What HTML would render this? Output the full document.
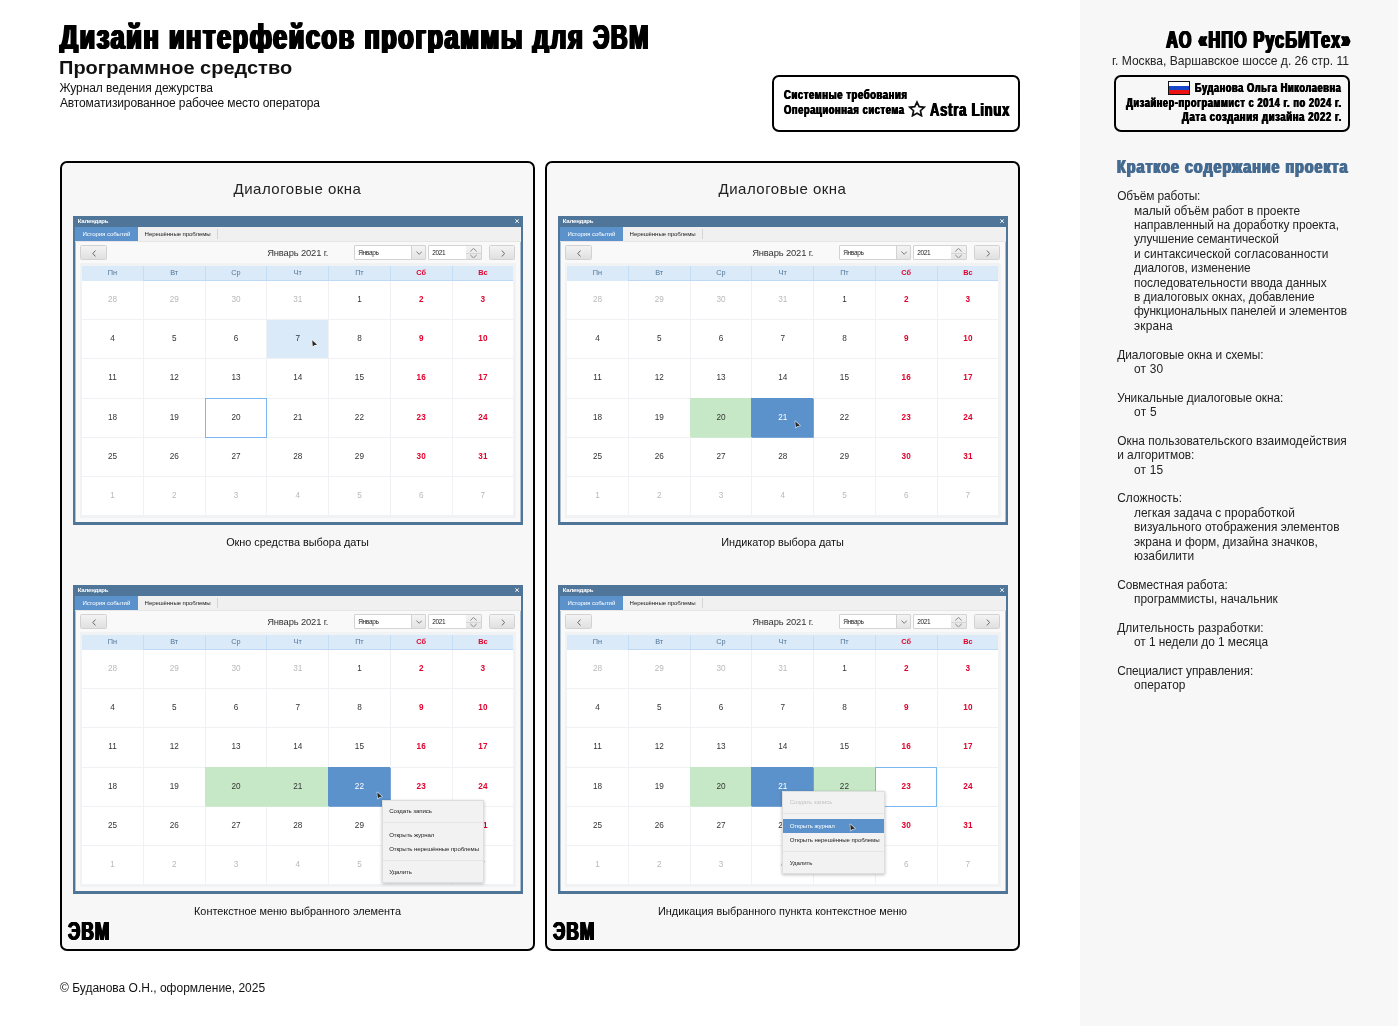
<!DOCTYPE html><html lang="ru"><head><meta charset="utf-8"><title>Дизайн интерфейсов программы для ЭВМ</title><style>
*{box-sizing:border-box;margin:0;padding:0}
html,body{width:1398px;height:1026px;overflow:hidden;background:#fff}
body{position:relative;font-family:"Liberation Sans",sans-serif;color:#111;will-change:transform}
.abs{position:absolute;white-space:nowrap;line-height:1}
.cond{position:absolute;white-space:nowrap;line-height:1;font-weight:bold;transform-origin:0 0;}
.condr{transform-origin:100% 0}
#side{position:absolute;left:1080px;top:0;width:318px;height:1026px;background:#f7f7f7}
.box{position:absolute;border:2px solid #000;border-radius:7px}
.panel{position:absolute;top:161px;width:475px;height:790px;border:2px solid #000;border-radius:7px;background:#f7f7f7}
.ptitle{position:absolute;left:0;width:100%;text-align:center;font-size:15px;letter-spacing:.5px;line-height:1;color:#222}
.cap{position:absolute;left:0;width:100%;text-align:center;font-size:10.9px;letter-spacing:-.02px;line-height:1;color:#111}
.st{font-size:11.9px;line-height:14.4px;color:#222;position:absolute;white-space:nowrap}
/* calendar window */
.win{position:absolute;width:450px;height:309px;background:#f9f9f9;border:2.3px solid #4f7599;border-bottom-width:3px;border-top:none;box-shadow:inset .7px 0 0 rgba(79,117,153,.6),inset -.7px 0 0 rgba(79,117,153,.6);overflow:hidden;font-size:8px}
.win .tb{position:absolute;left:-3px;top:0;width:456px;height:10.8px;background:#4f7599}
.win .tt{position:absolute;left:2.8px;top:2.3px;font-size:6px;font-weight:bold;color:#fff;line-height:1;letter-spacing:-.2px}
.win .x{position:absolute;left:439.7px;top:3.4px;width:4.2px;height:4.2px}
.win .tabs{position:absolute;left:0;top:10.8px;width:446px;height:14.8px;background:#f0f0f0;border-bottom:.6px solid #e6e6e6}
.win .tab1{position:absolute;left:0;top:0;width:62.6px;height:14.4px;background:#5b92cc;color:#fff;font-size:6.1px;line-height:14.4px;text-align:center;letter-spacing:-.1px}
.win .tab2{position:absolute;left:62.6px;top:0;width:80px;height:14.4px;color:#222;font-size:6.1px;line-height:14.4px;text-align:center;letter-spacing:-.1px}
.win .tsep{position:absolute;left:142.3px;top:2.5px;width:.7px;height:9.5px;background:#d5d5d5}
.btn{position:absolute;top:29.4px;height:14.6px;width:26.2px;border:.7px solid #d2d2d2;border-radius:1.5px;background:linear-gradient(#f3f3f3,#e0e0e0)}
.btn svg{position:absolute;left:10.3px;top:3.6px;width:4.4px;height:7px}
.mon{position:absolute;left:192.2px;top:32.1px;font-size:9.4px;letter-spacing:-.14px;line-height:1;color:#333;white-space:nowrap}
.dd{position:absolute;top:29.4px;height:14.4px;background:#fff;border:.7px solid #d3d3d3;border-radius:1px;font-size:6.5px;line-height:13.6px;color:#222;padding-left:3.7px;letter-spacing:-.32px}
.dd .ar{position:absolute;right:0;top:0;bottom:0;width:14px;border-left:.7px solid #d2d2d2;background:linear-gradient(#f4f4f4,#e4e4e4)}
.frame{position:absolute;left:5.3px;top:47.3px;width:435.7px;height:254.4px;background:#f0f2f4}
.hd{position:absolute;left:.8px;top:2.3px;width:432.2px;height:15.4px;background:#dbeaf8;border-bottom:.8px solid #bdd9f3;display:grid;grid-template-columns:repeat(7,1fr);z-index:1}
.hd div{text-align:center;font-size:7.3px;line-height:14.6px;color:#4f7599;border-left:.8px solid #c4def5}
.hd div:first-child{border-left:1.5px solid #f0f2f4;margin-bottom:-.8px;background:#dbeaf8;background-clip:padding-box}
.hd div.r{color:#e2002c;font-weight:bold}
.gr{position:absolute;left:.8px;top:16.9px;width:432.2px;height:234.9px;background:#fff;display:grid;grid-template-columns:repeat(7,1fr);grid-template-rows:repeat(6,1fr)}
.gr div{position:relative;border-left:.8px solid #eff1f4;border-top:.8px solid #eff1f4;text-align:center;font-size:8.2px;line-height:37px;color:#333;min-height:0}
.gr div.f{border-left:1.5px solid #f0f2f4}
.gr div.t{border-top-color:#fff}
.gr div.g{color:#b9b9b9}
.gr div.r{color:#e2002c;font-weight:bold}
.gr div.hov{background:#dbeaf8}
.gr div.grn{background:#c6e8c6;border-color:#c6e8c6;z-index:1;box-shadow:.8px .8px 0 0 #c6e8c6}
.gr div.sel{background:#5b92cc;color:#fff;border-color:#5b92cc;z-index:2;box-shadow:.8px .8px 0 0 #5b92cc}
.gr div.foc{z-index:3}.gr div.foc::after{content:'';position:absolute;left:-.8px;top:-.8px;right:-.8px;bottom:-.8px;border:1px solid #7bb8ef}
.menu{position:absolute;width:102.8px;height:82.8px;background:#f2f2f2;border:.6px solid #dedede;box-shadow:0 1px 3px rgba(0,0,0,.25);font-size:6.1px;color:#222;letter-spacing:-.1px;z-index:5}
.menu div{position:absolute;left:0;width:100%;padding-left:6.6px;line-height:14.2px;height:14.6px;white-space:nowrap}
.menu hr{position:absolute;left:0;width:100%;border:none;height:.7px;background:#e5e5e5}
.menu .dis{color:#c4c4c4}
.menu .hi{background:#5b92cc;color:#fff}
.cur{position:absolute;width:8px;height:9.6px;z-index:6}
</style></head><body><div id="side"></div><div class="cond" style="top:19.17px;font-size:35px;color:#000;transform:scaleX(0.7229);letter-spacing:2.21px;text-shadow:0.85px 0 0,-0.85px 0 0,1.7px 0 0,-1.7px 0 0;clip-path:inset(-9px -9px 1.2px -9px);left:60.34px;">Дизайн интерфейсов программы для</div><div class="cond" style="top:19.17px;font-size:35px;color:#000;transform:scaleX(0.6611);letter-spacing:2.21px;text-shadow:0.85px 0 0,-0.85px 0 0,1.7px 0 0,-1.7px 0 0;left:592.81px;">ЭВМ</div><div class="abs" style="left:59.4px;top:59.9px;font-size:17.8px;font-weight:bold;color:#111;transform-origin:0 0;transform:scaleX(1.125)">Программное средство</div><div class="abs" style="left:59.4px;top:81.6px;font-size:12px;letter-spacing:-.07px">Журнал ведения дежурства</div><div class="abs" style="left:60px;top:96.8px;font-size:12px;letter-spacing:-.135px">Автоматизированное рабочее место оператора</div><div class="box" style="left:772px;top:75px;width:248px;height:57px;background:#fff"></div><div class="cond" style="top:88.63px;font-size:12.6px;color:#000;transform:scaleX(0.7527);letter-spacing:0.78px;text-shadow:0.6px 0 0,-0.6px 0 0;left:783.72px;">Системные требования</div><div class="cond" style="top:103.53px;font-size:12.6px;color:#000;transform:scaleX(0.745);letter-spacing:0.78px;text-shadow:0.6px 0 0,-0.6px 0 0;left:783.72px;">Операционная система</div><svg style="position:absolute;left:908.2px;top:99.9px;width:18px;height:17.4px" viewBox="0 0 24 23"><path d="M12 2.6l2.9 6.2 6.7.8-5 4.6 1.4 6.7L12 17.6l-6 3.3 1.4-6.7-5-4.6 6.7-.8z" fill="none" stroke="#111" stroke-width="2.3" stroke-linejoin="miter"/></svg><div class="cond" style="top:99.85px;font-size:19.2px;color:#000;transform:scaleX(0.6767);letter-spacing:1.17px;text-shadow:0.9px 0 0,-0.9px 0 0;left:929.55px;">Astra Linux</div><div class="cond condr" style="top:28.38px;font-size:24.6px;color:#000;transform:scaleX(0.6556);letter-spacing:1.82px;text-shadow:0.7px 0 0,-0.7px 0 0,1.4px 0 0,-1.4px 0 0;right:47.05px;">АО «НПО РусБИТех»</div><div class="abs" style="right:49px;top:55.2px;font-size:12.1px;color:#222">г. Москва, Варшавское шоссе д. 26 стр. 11</div><div class="box" style="left:1114px;top:75px;width:236px;height:57px;background:#f7f7f7"></div><div style="position:absolute;left:1168px;top:81.2px;width:22px;height:13.4px;border:1px solid #111;background:linear-gradient(#fff 0 33%,#1747c8 33% 66%,#e11 66%)"></div><div class="cond condr" style="top:82.0px;font-size:12.4px;color:#000;transform:scaleX(0.7462);letter-spacing:0.78px;text-shadow:0.6px 0 0,-0.6px 0 0;right:56.29px;">Буданова Ольга Николаевна</div><div class="cond condr" style="top:97.0px;font-size:12.4px;color:#000;transform:scaleX(0.7463);letter-spacing:0.78px;text-shadow:0.6px 0 0,-0.6px 0 0;right:56.29px;">Дизайнер-программист с 2014 г. по 2024 г.</div><div class="cond condr" style="top:111.0px;font-size:12.4px;color:#000;transform:scaleX(0.7688);letter-spacing:0.78px;text-shadow:0.6px 0 0,-0.6px 0 0;right:56.27px;">Дата создания дизайна 2022 г.</div><div class="cond" style="top:158.19px;font-size:18.2px;color:#456b91;transform:scaleX(0.7879);letter-spacing:1.23px;text-shadow:0.95px 0 0,-0.95px 0 0;left:1117.05px;">Краткое содержание проекта</div><div class="st" style="left:1117.2px;top:189.3px;letter-spacing:-0.137px">Объём работы:</div><div class="st" style="left:1134.0px;top:203.69px;letter-spacing:-0.035px">малый объём работ в проекте</div><div class="st" style="left:1134.0px;top:218.07px;letter-spacing:-0.073px">направленный на доработку проекта,</div><div class="st" style="left:1134.0px;top:232.46px;letter-spacing:-0.118px">улучшение семантической</div><div class="st" style="left:1134.0px;top:246.84px;letter-spacing:0.041px">и синтаксической согласованности</div><div class="st" style="left:1134.0px;top:261.23px;letter-spacing:-0.037px">диалогов, изменение</div><div class="st" style="left:1134.0px;top:275.61px;letter-spacing:-0.056px">последовательности ввода данных</div><div class="st" style="left:1134.0px;top:290.0px;letter-spacing:-0.049px">в диалоговых окнах, добавление</div><div class="st" style="left:1134.0px;top:304.38px;letter-spacing:-0.1px">функциональных панелей и элементов</div><div class="st" style="left:1134.0px;top:318.76px;letter-spacing:0.199px">экрана</div><div class="st" style="left:1117.2px;top:347.53px;letter-spacing:-0.027px">Диалоговые окна и схемы:</div><div class="st" style="left:1134.0px;top:361.92px;letter-spacing:0.188px">от 30</div><div class="st" style="left:1117.2px;top:390.69px;letter-spacing:-0.079px">Уникальные диалоговые окна:</div><div class="st" style="left:1134.0px;top:405.08px;letter-spacing:0.323px">от 5</div><div class="st" style="left:1117.2px;top:433.85px;letter-spacing:0.037px">Окна пользовательского взаимодействия</div><div class="st" style="left:1117.2px;top:448.23px;letter-spacing:-0.005px">и алгоритмов:</div><div class="st" style="left:1134.0px;top:462.62px;letter-spacing:0.188px">от 15</div><div class="st" style="left:1117.2px;top:491.38px;letter-spacing:0.087px">Сложность:</div><div class="st" style="left:1134.0px;top:505.77px;letter-spacing:0.01px">легкая задача с проработкой</div><div class="st" style="left:1134.0px;top:520.15px;letter-spacing:-0.008px">визуального отображения элементов</div><div class="st" style="left:1134.0px;top:534.54px;letter-spacing:0.005px">экрана и форм, дизайна значков,</div><div class="st" style="left:1134.0px;top:548.92px;letter-spacing:-0.006px">юзабилити</div><div class="st" style="left:1117.2px;top:577.69px;letter-spacing:-0.082px">Совместная работа:</div><div class="st" style="left:1134.0px;top:592.08px;letter-spacing:-0.011px">программисты, начальник</div><div class="st" style="left:1117.2px;top:620.85px;letter-spacing:0.026px">Длительность разработки:</div><div class="st" style="left:1134.0px;top:635.24px;letter-spacing:-0.052px">от 1 недели до 1 месяца</div><div class="st" style="left:1117.2px;top:664.0px;letter-spacing:-0.102px">Специалист управления:</div><div class="st" style="left:1134.0px;top:678.39px;letter-spacing:0.042px">оператор</div><div class="panel" style="left:60px"><div class="ptitle" style="top:17.6px">Диалоговые окна</div><div class="cap" style="top:373.8px">Окно средства выбора даты</div><div class="cap" style="top:742.7px">Контекстное меню выбранного элемента</div></div><div class="cond" style="top:918.96px;font-size:25.8px;color:#000;transform:scaleX(0.6705);letter-spacing:1.56px;text-shadow:0.6px 0 0,-0.6px 0 0,1.2px 0 0,-1.2px 0 0;left:67.5px;">ЭВМ</div><div class="panel" style="left:545px"><div class="ptitle" style="top:17.6px">Диалоговые окна</div><div class="cap" style="top:373.8px">Индикатор выбора даты</div><div class="cap" style="top:742.7px">Индикация выбранного пункта контекстное меню</div></div><div class="cond" style="top:918.96px;font-size:25.8px;color:#000;transform:scaleX(0.6705);letter-spacing:1.56px;text-shadow:0.6px 0 0,-0.6px 0 0,1.2px 0 0,-1.2px 0 0;left:552.5px;">ЭВМ</div><div class="win" style="left:73px;top:216px"><div class="tb"></div><div class="tt">Календарь</div><svg class="x" viewBox="0 0 4 4"><path d="M.3.3l3.4 3.4M3.7.3L.3 3.7" stroke="#fff" stroke-width=".9"/></svg><div class="tabs"><div class="tab1">История событий</div><div class="tab2">Нерешённые проблемы</div><div class="tsep"></div></div><div class="btn" style="left:5.4px"><svg viewBox="0 0 4 6.4"><path d="M3.2.5L.7 3.2l2.5 2.7" fill="none" stroke="#555" stroke-width=".8"/></svg></div><div class="mon">Январь 2021 г.</div><div class="dd" style="left:278.5px;width:72px">Январь<span class="ar"><svg style="position:absolute;left:4px;top:5px;width:6.4px;height:4px" viewBox="0 0 6.4 4"><path d="M.4.5l2.8 2.8L6 .5" fill="none" stroke="#555" stroke-width=".75"/></svg></span></div><div class="dd" style="left:352.5px;width:54.4px">2021<span class="ar" style="width:14.6px;border-left:none"><i style="position:absolute;left:0;right:0;top:6.4px;height:.6px;background:#d6d6d6"></i><svg style="position:absolute;left:3.6px;top:1.6px;width:7px;height:10.4px" viewBox="0 0 7 10.4"><path d="M.3 3.5L3.5.4l3.2 3.1M.3 6.9l3.2 3.1 3.2-3.1" fill="none" stroke="#666" stroke-width=".75"/></svg></span></div><div class="btn" style="left:414.3px"><svg viewBox="0 0 4 6.4"><path d="M.8.5l2.5 2.7L.8 5.9" fill="none" stroke="#555" stroke-width=".8"/></svg></div><div class="frame"><div class="hd"><div>Пн</div><div>Вт</div><div>Ср</div><div>Чт</div><div>Пт</div><div class=r>Сб</div><div class=r>Вс</div></div><div class="gr"><div class="f t g">28</div><div class="t g">29</div><div class="t g">30</div><div class="t g">31</div><div class="t">1</div><div class="t r">2</div><div class="t r">3</div><div class="f">4</div><div>5</div><div>6</div><div class="hov">7</div><div>8</div><div class="r">9</div><div class="r">10</div><div class="f">11</div><div>12</div><div>13</div><div>14</div><div>15</div><div class="r">16</div><div class="r">17</div><div class="f">18</div><div>19</div><div class="foc">20</div><div>21</div><div>22</div><div class="r">23</div><div class="r">24</div><div class="f">25</div><div>26</div><div>27</div><div>28</div><div>29</div><div class="r">30</div><div class="r">31</div><div class="f g">1</div><div class="g">2</div><div class="g">3</div><div class="g">4</div><div class="g">5</div><div class="g">6</div><div class="g">7</div></div></div><svg class="cur" style="left:236.3px;top:123.0px" viewBox="-1.2 -1.2 8 9.6"><path d="M0 0L4.9 4.5 2.3 4.8.6 6.4z" fill="#2b2521" stroke="#fff" stroke-opacity=".85" stroke-width="1.1" stroke-linejoin="round" paint-order="stroke"/></svg></div><div class="win" style="left:73px;top:585px"><div class="tb"></div><div class="tt">Календарь</div><svg class="x" viewBox="0 0 4 4"><path d="M.3.3l3.4 3.4M3.7.3L.3 3.7" stroke="#fff" stroke-width=".9"/></svg><div class="tabs"><div class="tab1">История событий</div><div class="tab2">Нерешённые проблемы</div><div class="tsep"></div></div><div class="btn" style="left:5.4px"><svg viewBox="0 0 4 6.4"><path d="M3.2.5L.7 3.2l2.5 2.7" fill="none" stroke="#555" stroke-width=".8"/></svg></div><div class="mon">Январь 2021 г.</div><div class="dd" style="left:278.5px;width:72px">Январь<span class="ar"><svg style="position:absolute;left:4px;top:5px;width:6.4px;height:4px" viewBox="0 0 6.4 4"><path d="M.4.5l2.8 2.8L6 .5" fill="none" stroke="#555" stroke-width=".75"/></svg></span></div><div class="dd" style="left:352.5px;width:54.4px">2021<span class="ar" style="width:14.6px;border-left:none"><i style="position:absolute;left:0;right:0;top:6.4px;height:.6px;background:#d6d6d6"></i><svg style="position:absolute;left:3.6px;top:1.6px;width:7px;height:10.4px" viewBox="0 0 7 10.4"><path d="M.3 3.5L3.5.4l3.2 3.1M.3 6.9l3.2 3.1 3.2-3.1" fill="none" stroke="#666" stroke-width=".75"/></svg></span></div><div class="btn" style="left:414.3px"><svg viewBox="0 0 4 6.4"><path d="M.8.5l2.5 2.7L.8 5.9" fill="none" stroke="#555" stroke-width=".8"/></svg></div><div class="frame"><div class="hd"><div>Пн</div><div>Вт</div><div>Ср</div><div>Чт</div><div>Пт</div><div class=r>Сб</div><div class=r>Вс</div></div><div class="gr"><div class="f t g">28</div><div class="t g">29</div><div class="t g">30</div><div class="t g">31</div><div class="t">1</div><div class="t r">2</div><div class="t r">3</div><div class="f">4</div><div>5</div><div>6</div><div>7</div><div>8</div><div class="r">9</div><div class="r">10</div><div class="f">11</div><div>12</div><div>13</div><div>14</div><div>15</div><div class="r">16</div><div class="r">17</div><div class="f">18</div><div>19</div><div class="grn">20</div><div class="grn">21</div><div class="sel">22</div><div class="r">23</div><div class="r">24</div><div class="f">25</div><div>26</div><div>27</div><div>28</div><div>29</div><div class="r">30</div><div class="r">31</div><div class="f g">1</div><div class="g">2</div><div class="g">3</div><div class="g">4</div><div class="g">5</div><div class="g">6</div><div class="g">7</div></div></div><div class="menu" style="left:306.6px;top:215.0px"><div style="top:2.5px">Создать запись</div><hr style="top:21.3px"><div style="top:26.5px">Открыть журнал</div><div style="top:40.6px">Открыть нерешённые проблемы</div><hr style="top:59.3px"><div style="top:63.9px">Удалить</div></div><svg class="cur" style="left:301.3px;top:206.2px" viewBox="-1.2 -1.2 8 9.6"><path d="M0 0L4.9 4.5 2.3 4.8.6 6.4z" fill="#2b2521" stroke="#fff" stroke-opacity=".85" stroke-width="1.1" stroke-linejoin="round" paint-order="stroke"/></svg></div><div class="win" style="left:558px;top:216px"><div class="tb"></div><div class="tt">Календарь</div><svg class="x" viewBox="0 0 4 4"><path d="M.3.3l3.4 3.4M3.7.3L.3 3.7" stroke="#fff" stroke-width=".9"/></svg><div class="tabs"><div class="tab1">История событий</div><div class="tab2">Нерешённые проблемы</div><div class="tsep"></div></div><div class="btn" style="left:5.4px"><svg viewBox="0 0 4 6.4"><path d="M3.2.5L.7 3.2l2.5 2.7" fill="none" stroke="#555" stroke-width=".8"/></svg></div><div class="mon">Январь 2021 г.</div><div class="dd" style="left:278.5px;width:72px">Январь<span class="ar"><svg style="position:absolute;left:4px;top:5px;width:6.4px;height:4px" viewBox="0 0 6.4 4"><path d="M.4.5l2.8 2.8L6 .5" fill="none" stroke="#555" stroke-width=".75"/></svg></span></div><div class="dd" style="left:352.5px;width:54.4px">2021<span class="ar" style="width:14.6px;border-left:none"><i style="position:absolute;left:0;right:0;top:6.4px;height:.6px;background:#d6d6d6"></i><svg style="position:absolute;left:3.6px;top:1.6px;width:7px;height:10.4px" viewBox="0 0 7 10.4"><path d="M.3 3.5L3.5.4l3.2 3.1M.3 6.9l3.2 3.1 3.2-3.1" fill="none" stroke="#666" stroke-width=".75"/></svg></span></div><div class="btn" style="left:414.3px"><svg viewBox="0 0 4 6.4"><path d="M.8.5l2.5 2.7L.8 5.9" fill="none" stroke="#555" stroke-width=".8"/></svg></div><div class="frame"><div class="hd"><div>Пн</div><div>Вт</div><div>Ср</div><div>Чт</div><div>Пт</div><div class=r>Сб</div><div class=r>Вс</div></div><div class="gr"><div class="f t g">28</div><div class="t g">29</div><div class="t g">30</div><div class="t g">31</div><div class="t">1</div><div class="t r">2</div><div class="t r">3</div><div class="f">4</div><div>5</div><div>6</div><div>7</div><div>8</div><div class="r">9</div><div class="r">10</div><div class="f">11</div><div>12</div><div>13</div><div>14</div><div>15</div><div class="r">16</div><div class="r">17</div><div class="f">18</div><div>19</div><div class="grn">20</div><div class="sel">21</div><div>22</div><div class="r">23</div><div class="r">24</div><div class="f">25</div><div>26</div><div>27</div><div>28</div><div>29</div><div class="r">30</div><div class="r">31</div><div class="f g">1</div><div class="g">2</div><div class="g">3</div><div class="g">4</div><div class="g">5</div><div class="g">6</div><div class="g">7</div></div></div><svg class="cur" style="left:234.3px;top:204.2px" viewBox="-1.2 -1.2 8 9.6"><path d="M0 0L4.9 4.5 2.3 4.8.6 6.4z" fill="#2b2521" stroke="#fff" stroke-opacity=".85" stroke-width="1.1" stroke-linejoin="round" paint-order="stroke"/></svg></div><div class="win" style="left:558px;top:585px"><div class="tb"></div><div class="tt">Календарь</div><svg class="x" viewBox="0 0 4 4"><path d="M.3.3l3.4 3.4M3.7.3L.3 3.7" stroke="#fff" stroke-width=".9"/></svg><div class="tabs"><div class="tab1">История событий</div><div class="tab2">Нерешённые проблемы</div><div class="tsep"></div></div><div class="btn" style="left:5.4px"><svg viewBox="0 0 4 6.4"><path d="M3.2.5L.7 3.2l2.5 2.7" fill="none" stroke="#555" stroke-width=".8"/></svg></div><div class="mon">Январь 2021 г.</div><div class="dd" style="left:278.5px;width:72px">Январь<span class="ar"><svg style="position:absolute;left:4px;top:5px;width:6.4px;height:4px" viewBox="0 0 6.4 4"><path d="M.4.5l2.8 2.8L6 .5" fill="none" stroke="#555" stroke-width=".75"/></svg></span></div><div class="dd" style="left:352.5px;width:54.4px">2021<span class="ar" style="width:14.6px;border-left:none"><i style="position:absolute;left:0;right:0;top:6.4px;height:.6px;background:#d6d6d6"></i><svg style="position:absolute;left:3.6px;top:1.6px;width:7px;height:10.4px" viewBox="0 0 7 10.4"><path d="M.3 3.5L3.5.4l3.2 3.1M.3 6.9l3.2 3.1 3.2-3.1" fill="none" stroke="#666" stroke-width=".75"/></svg></span></div><div class="btn" style="left:414.3px"><svg viewBox="0 0 4 6.4"><path d="M.8.5l2.5 2.7L.8 5.9" fill="none" stroke="#555" stroke-width=".8"/></svg></div><div class="frame"><div class="hd"><div>Пн</div><div>Вт</div><div>Ср</div><div>Чт</div><div>Пт</div><div class=r>Сб</div><div class=r>Вс</div></div><div class="gr"><div class="f t g">28</div><div class="t g">29</div><div class="t g">30</div><div class="t g">31</div><div class="t">1</div><div class="t r">2</div><div class="t r">3</div><div class="f">4</div><div>5</div><div>6</div><div>7</div><div>8</div><div class="r">9</div><div class="r">10</div><div class="f">11</div><div>12</div><div>13</div><div>14</div><div>15</div><div class="r">16</div><div class="r">17</div><div class="f">18</div><div>19</div><div class="grn">20</div><div class="sel">21</div><div class="grn">22</div><div class="r foc">23</div><div class="r">24</div><div class="f">25</div><div>26</div><div>27</div><div>28</div><div>29</div><div class="r">30</div><div class="r">31</div><div class="f g">1</div><div class="g">2</div><div class="g">3</div><div class="g">4</div><div class="g">5</div><div class="g">6</div><div class="g">7</div></div></div><div class="menu" style="left:222.1px;top:206.1px"><div class="dis" style="top:2.5px">Создать запись</div><hr style="top:21.3px"><div class="hi" style="top:26.5px">Открыть журнал</div><div style="top:40.6px">Открыть нерешённые проблемы</div><hr style="top:59.3px"><div style="top:63.9px">Удалить</div></div><svg class="cur" style="left:289.3px;top:237.55px" viewBox="-1.2 -1.2 8 9.6"><path d="M0 0L4.9 4.5 2.3 4.8.6 6.4z" fill="#2b2521" stroke="#fff" stroke-opacity=".85" stroke-width="1.1" stroke-linejoin="round" paint-order="stroke"/></svg></div><div class="abs" style="left:60px;top:981.6px;font-size:12px;color:#111">© Буданова О.Н., оформление, 2025</div></body></html>
